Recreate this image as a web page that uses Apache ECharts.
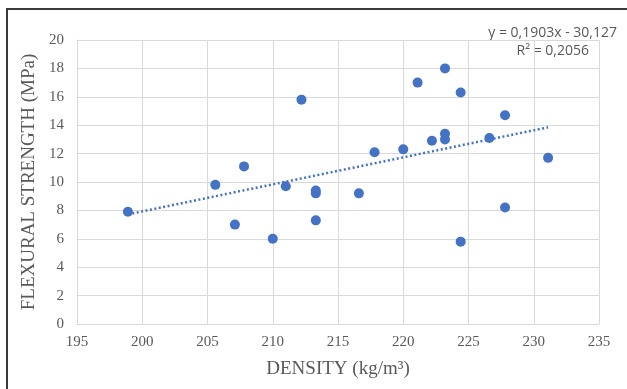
<!DOCTYPE html>
<html>
<head>
<meta charset="utf-8">
<script src="https://cdn.jsdelivr.net/npm/echarts@6/dist/echarts.min.js"></script>
<style>
  html, body { margin: 0; padding: 0; background: #fff; }
  #chart { width: 627px; height: 389px; }
</style>
</head>
<body>
<div id="chart"></div>
<script>
// density (kg/m3) and flexural strength (MPa)
var density = [198.9, 205.6, 207.1, 207.8, 210.0, 211.0, 212.2, 213.3, 213.3, 213.3,
               216.6, 217.8, 220.0, 221.1, 222.2, 223.2, 223.2, 223.2, 224.4, 224.4,
               226.6, 227.8, 227.8, 231.1];
var strength = [7.9, 9.8, 7.0, 11.1, 6.0, 9.7, 15.8, 9.4, 9.2, 7.3,
                9.2, 12.1, 12.3, 17.0, 12.9, 18.0, 13.4, 13.0, 16.3, 5.8,
                13.1, 14.7, 8.2, 11.7];
// linear trendline end points (y = 0,1903x - 30,127)
var trendX = [198.9, 231.1];
var trendY = [7.72, 13.85];
var eqText = 'y = 0,1903x - 30,127';
var r2Text = 'R² = 0,2056';

var myChart = echarts.init(document.getElementById('chart'));
var grey = '#d9d9d9';
var serif = '"Liberation Serif", "Times New Roman", serif';

myChart.setOption({
    animation: false,
    grid: { left: 77, right: 28, top: 40, bottom: 65 },
    graphic: [
        {
            type: 'rect',
            shape: { x: 7, y: 9, width: 640, height: 400 },
            style: { fill: 'none', stroke: '#3a3a3a', lineWidth: 2 }
        },
        {
            type: 'text', right: 10, top: 26,
            style: { text: eqText, fill: '#595959', font: '14px "Open Sans", Lato, sans-serif', textAlign: 'right' }
        },
        {
            type: 'text', right: 38, top: 44,
            style: { text: r2Text, fill: '#595959', font: '14px "Open Sans", Lato, sans-serif', textAlign: 'right' }
        }
    ],
    xAxis: {
        type: 'value',
        min: 195, max: 235, interval: 5,
        name: 'DENSITY (kg/m³)',
        nameLocation: 'middle',
        nameGap: 36,
        nameTextStyle: { fontFamily: serif, fontSize: 19, color: '#595959' },
        axisLine: { show: true, lineStyle: { color: grey } },
        axisTick: { show: false },
        splitLine: { show: true, lineStyle: { color: grey } },
        axisLabel: { fontFamily: serif, fontSize: 15, color: '#595959', margin: 11 }
    },
    yAxis: {
        type: 'value',
        min: 0, max: 20, interval: 2,
        name: 'FLEXURAL STRENGTH (MPa)',
        nameLocation: 'middle',
        nameGap: 34,
        nameTextStyle: { fontFamily: serif, fontSize: 19, color: '#595959' },
        axisLine: { show: true, lineStyle: { color: grey } },
        axisTick: { show: false },
        splitLine: { show: true, lineStyle: { color: grey } },
        axisLabel: { fontFamily: serif, fontSize: 15, color: '#595959', margin: 13 }
    },
    series: [
        {
            type: 'line',
            data: trendX.map(function (x, i) { return [x, trendY[i]]; }),
            symbol: 'none',
            lineStyle: { color: '#4472C4', width: 2.5, type: [2, 2.5] },
            z: 2
        },
        {
            type: 'scatter',
            data: density.map(function (x, i) { return [x, strength[i]]; }),
            symbol: 'circle',
            symbolSize: 10,
            itemStyle: { color: '#4472C4', opacity: 1 },
            z: 3
        }
    ]
});
</script>
</body>
</html>
